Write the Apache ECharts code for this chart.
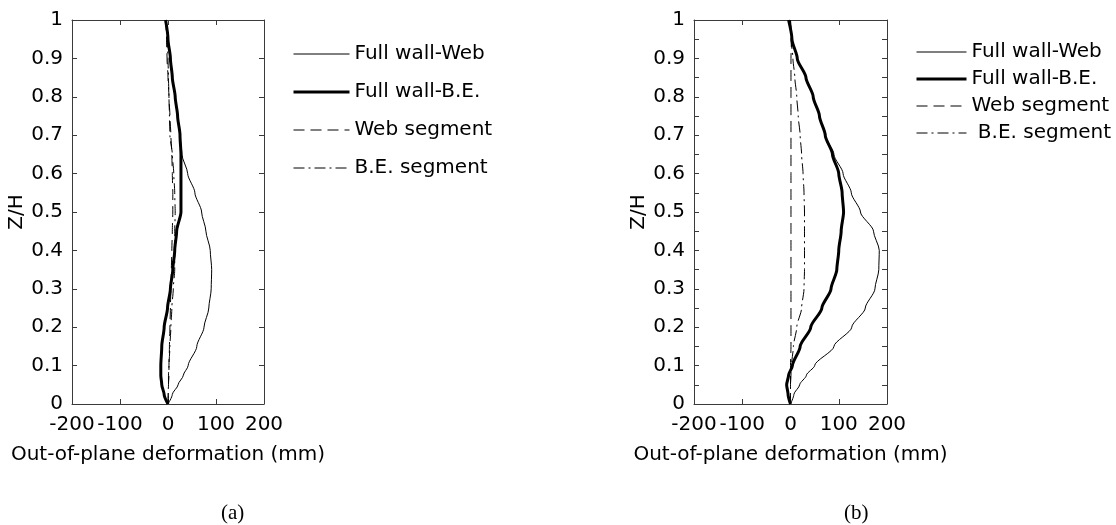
<!DOCTYPE html>
<html>
<head>
<meta charset="utf-8">
<title>Out-of-plane deformation profiles</title>
<script src="https://cdn.jsdelivr.net/npm/echarts@6/dist/echarts.min.js"></script>
<style>
  html, body { margin: 0; padding: 0; background: #fff; }
  #chart { width: 1116px; height: 525px; }
</style>
</head>
<body>
<div id="chart"></div>
<script>
// Normalised height Z/H at which each profile is sampled
const heights = [0, 0.025, 0.05, 0.075, 0.1, 0.15, 0.2, 0.25, 0.3, 0.35, 0.4, 0.45,
                 0.5, 0.55, 0.6, 0.65, 0.7, 0.75, 0.8, 0.85, 0.9, 0.95, 1];

// Panel (a): out-of-plane deformation (mm)
const fullWebA  = [0, 9, 21, 32, 42, 60, 75, 85, 90, 91, 88, 79, 70, 56, 41, 29, 25, 20, 15, 9, 5, 0, -5];
const fullBEA   = [0, -8, -13, -15, -15, -13, -8, -1, 5, 10, 14, 18, 27, 27, 27, 27, 25, 20, 15, 9, 5, 0, -5];
const webSegA   = [0, 1, 1, 2, 2, 3, 4, 5, 6, 7, 8, 9, 10, 10, 9, 8, 6, 4, 2, 0, -2, -3, -5];
const beSegA    = [0, 0, 1, 1, 2, 4, 6, 8, 11, 14, 14, 14, 15, 14, 12, 9, 4, 3, 2, 1, 0, -2, -5];

// Panel (b): out-of-plane deformation (mm)
const fullWebB  = [0, 7, 19, 33, 50, 90, 127, 155, 175, 183, 184, 172, 145, 126, 109, 90, 72, 60, 47, 32, 14, 3, -4];
const fullBEB   = [0, -5, -8, -4, 4, 20, 42, 65, 84, 96, 100, 105, 110, 107, 100, 87, 72, 60, 47, 32, 14, 3, -4];
const webSegB   = [0, 0, 0, 0, 0, 1, 1, 1, 1, 1, 1, 1, 1, 1, 1, 1, 1, 1, 1, 1, 1, 2, 0];
const beSegB    = [0, 0, 0, 1, 2, 6, 13, 23, 28, 29, 29, 29, 29, 28, 26, 23, 20, 16, 13, 9, 5, 1, 0];

// Axis ticks
const xTicks = [-200, -100, 0, 100, 200];
const yTicks = [0, 0.1, 0.2, 0.3, 0.4, 0.5, 0.6, 0.7, 0.8, 0.9, 1];

const seriesNames = ['Full wall-Web', 'Full wall-B.E.', 'Web segment', 'B.E. segment'];
const captions = ['(a)', '(b)'];
const xTitle = 'Out-of-plane deformation (mm)';
const yTitle = 'Z/H';

const FONT = 'DejaVu Sans';
const AXIS_COLOR = '#3a3a3a';

// Line styles of the four profiles
const styles = [
  { width: 1, type: 'solid' },
  { width: 3, type: 'solid' },
  { width: 1, type: [11, 6] },
  { width: 1, type: [11, 4, 2, 4] }
];

function pairs(values) {
  return values.map((v, i) => [v, heights[i]]);
}

function bottomX(grid) {
  return {
    type: 'value', gridIndex: grid, position: 'bottom',
    min: xTicks[0], max: xTicks[xTicks.length - 1], interval: xTicks[1] - xTicks[0],
    name: xTitle, nameLocation: 'middle', nameGap: 41,
    nameTextStyle: { fontFamily: FONT, fontSize: 20, color: '#000' },
    axisLine: { show: true, onZero: false, lineStyle: { color: AXIS_COLOR, width: 1 } },
    axisTick: { show: true, inside: true, length: 5, lineStyle: { color: AXIS_COLOR } },
    axisLabel: { fontFamily: FONT, fontSize: 20, color: '#000', margin: 11,
                 showMinLabel: true, showMaxLabel: true },
    splitLine: { show: false }
  };
}

function topX(grid) {
  return {
    type: 'value', gridIndex: grid, position: 'top',
    min: xTicks[0], max: xTicks[xTicks.length - 1], interval: xTicks[1] - xTicks[0],
    axisLine: { show: true, onZero: false, lineStyle: { color: AXIS_COLOR, width: 1 } },
    axisTick: { show: true, inside: true, length: 5, lineStyle: { color: AXIS_COLOR } },
    axisLabel: { show: false },
    splitLine: { show: false }
  };
}

function sideY(grid, side, withLabels, minor) {
  return {
    type: 'value', gridIndex: grid, position: side,
    min: yTicks[0], max: yTicks[yTicks.length - 1], interval: yTicks[1] - yTicks[0],
    name: withLabels ? yTitle : '', nameLocation: 'middle', nameGap: 41,
    nameTextStyle: { fontFamily: FONT, fontSize: 20, color: '#000' },
    axisLine: { show: true, onZero: false, lineStyle: { color: AXIS_COLOR, width: 1 } },
    axisTick: { show: true, inside: true, length: 5, lineStyle: { color: AXIS_COLOR } },
    minorTick: { show: minor, splitNumber: 2, length: 5, lineStyle: { color: AXIS_COLOR } },
    axisLabel: { show: withLabels, fontFamily: FONT, fontSize: 20, color: '#000', margin: 9,
                 showMinLabel: true, showMaxLabel: true },
    splitLine: { show: false },
    minorSplitLine: { show: false }
  };
}

function profileSeries(panel, values) {
  return values.map((vals, k) => ({
    name: seriesNames[k],
    type: 'line',
    xAxisIndex: panel * 2,
    yAxisIndex: panel * 2,
    data: pairs(vals),
    symbol: 'none',
    smooth: 0.25,
    smoothMonotone: 'y',
    silent: true,
    lineStyle: { color: '#000', width: styles[k].width, type: styles[k].type },
    itemStyle: { color: '#000' },
    z: k === 1 ? 3 : 2
  }));
}

function legendBlock(left, top, gap, lineLen, shiftLast) {
  return {
    orient: 'vertical', left: left, top: top, padding: 0,
    itemGap: gap, itemWidth: lineLen, itemHeight: 14,
    selectedMode: false,
    formatter: shiftLast ? (n => (n === 'B.E. segment' ? ' ' + n : n)) : '{name}',
    textStyle: { fontFamily: FONT, fontSize: 20, lineHeight: 20, color: '#000' },
    data: seriesNames.map((n, k) => ({
      name: n,
      itemStyle: { opacity: 0 },
      lineStyle: { color: '#000', width: styles[k].width, type: styles[k].type, opacity: 1 }
    }))
  };
}

const chart = echarts.init(document.getElementById('chart'), null, { renderer: 'canvas' });

chart.setOption({
  animation: false,
  backgroundColor: '#fff',
  grid: [
    { left: 72, top: 20, width: 192, height: 384 },
    { left: 694, top: 20, width: 193, height: 384 }
  ],
  xAxis: [bottomX(0), topX(0), bottomX(1), topX(1)],
  yAxis: [
    sideY(0, 'left', true, false), sideY(0, 'right', false, false),
    sideY(1, 'left', true, true), sideY(1, 'right', false, true)
  ],
  legend: [
    legendBlock(292, 44, 18, 56, false),
    legendBlock(915, 42, 7, 50, true)
  ],
  series: [
    ...profileSeries(0, [fullWebA, fullBEA, webSegA, beSegA]),
    ...profileSeries(1, [fullWebB, fullBEB, webSegB, beSegB])
  ],
  graphic: [
    { type: 'text', left: 221, top: 503,
      style: { text: captions[0], font: '21px "Liberation Serif"', fill: '#000' } },
    { type: 'text', left: 844, top: 503,
      style: { text: captions[1], font: '21px "Liberation Serif"', fill: '#000' } }
  ]
});
</script>
</body>
</html>
